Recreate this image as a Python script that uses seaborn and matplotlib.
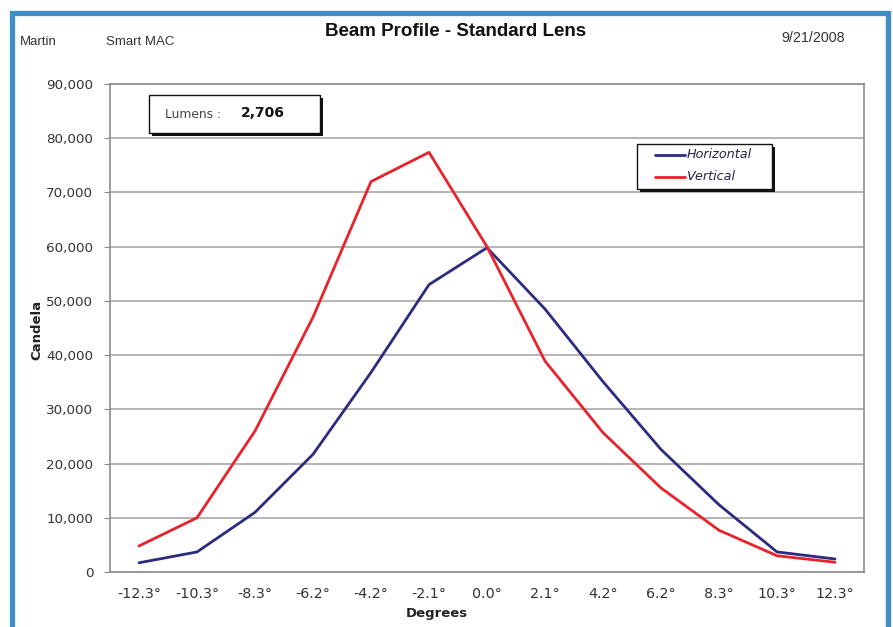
import matplotlib
matplotlib.use("Agg")
import matplotlib.pyplot as plt
import seaborn as sns
import pandas as pd
from matplotlib.patches import Rectangle
from matplotlib.lines import Line2D
from matplotlib.ticker import FuncFormatter

# ---------------- data ----------------
degree_labels = ["-12.3°", "-10.3°", "-8.3°", "-6.2°", "-4.2°", "-2.1°", "0.0°",
                 "2.1°", "4.2°", "6.2°", "8.3°", "10.3°", "12.3°"]
horizontal = [1700, 3700, 11000, 21700, 36800, 53000, 59800,
              48500, 35100, 22600, 12400, 3700, 2400]
vertical = [4800, 10000, 26000, 47000, 72000, 77400, 60000,
            38900, 25700, 15500, 7700, 3000, 1800]
series_names = ["Horizontal", "Vertical"]
y_ticks = [0, 10000, 20000, 30000, 40000, 50000, 60000, 70000, 80000, 90000]
lumens_value = "2,706"

# ---------------- style ----------------
sns.set_style("white")
plt.rcParams["font.family"] = ["DejaVu Sans"]

W, H = 893, 627
fig = plt.figure(figsize=(W / 100, H / 100), dpi=100)
fig.patch.set_facecolor("white")


def fx(x):
    return x / W


def fy(y):
    return 1 - y / H


colors = {"Horizontal": "#2d2b7f", "Vertical": "#e8232b"}

n = len(degree_labels)
df = pd.DataFrame({
    "pos": list(range(n)) * 2,
    "Candela": horizontal + vertical,
    "Series": [series_names[0]] * n + [series_names[1]] * n,
})

ax = fig.add_axes([fx(110), fy(572), fx(864) - fx(110), fy(84) - fy(572)])
sns.lineplot(data=df, x="pos", y="Candela", hue="Series", palette=colors,
             linewidth=2.0, legend=False, ax=ax, sort=False)

ax.set_xlim(-0.5, n - 0.5)
ax.set_ylim(0, 90000)
ax.set_yticks(y_ticks)
ax.yaxis.set_major_formatter(FuncFormatter(lambda v, p: f"{int(v):,}"))
ax.set_xticks(range(n))
ax.set_xticklabels(degree_labels)
ax.set_xticks([i - 0.5 for i in range(n + 1)], minor=True)
ax.tick_params(axis="x", which="major", length=0, pad=11, labelsize=10.3,
               labelcolor="#333333")
ax.tick_params(axis="x", which="minor", length=5, color="#8a8a8a", width=1)
ax.tick_params(axis="y", length=4, color="#8a8a8a", pad=8, labelsize=9.7,
               labelcolor="#333333", left=True)
ax.grid(axis="y", color="#a8a8a8", linewidth=1.2)
ax.set_axisbelow(True)
for s in ax.spines.values():
    s.set_color("#8c8c8c")
    s.set_linewidth(1.2)
ax.set_xlabel("")
ax.set_ylabel("")

# axis titles
fig.text(fx(437), fy(614), "Degrees", ha="center", va="center",
         fontsize=9.5, fontweight="bold", color="#222222")
fig.text(fx(37), fy(330), "Candela", ha="center", va="center", rotation=90,
         fontsize=9.5, fontweight="bold", color="#222222")

# header
hdr_font = ["Liberation Sans", "DejaVu Sans"]
fig.text(fx(456), fy(32), "Beam Profile - Standard Lens", ha="center",
         va="center", fontsize=13.5, fontweight="bold", family=hdr_font,
         color="#111111")
fig.text(fx(20), fy(42), "Martin", ha="left", va="center", fontsize=9.5,
         family=hdr_font, color="#333333")
fig.text(fx(106), fy(42), "Smart MAC", ha="left", va="center", fontsize=9.5,
         family=hdr_font, color="#333333")
fig.text(fx(845), fy(38), "9/21/2008", ha="right", va="center", fontsize=10.3,
         family=hdr_font, color="#333333")


def fig_rect(x0, y0, x1, y1, **kw):
    r = Rectangle((fx(x0), fy(y1)), fx(x1) - fx(x0), fy(y0) - fy(y1),
                  transform=fig.transFigure, **kw)
    fig.patches.append(r)
    return r


# lumens box with shadow
fig_rect(152, 98, 323, 136, facecolor="#111111", edgecolor="none", zorder=5)
fig_rect(149, 95, 320, 133, facecolor="white", edgecolor="#111111",
         linewidth=1.0, zorder=6)
fig.text(fx(165), fy(114), "Lumens :", ha="left", va="center", fontsize=8.8,
         color="#444444", zorder=7)
fig.text(fx(241), fy(113), lumens_value, ha="left", va="center", fontsize=10,
         fontweight="bold", color="#111111", zorder=7)

# legend box with shadow
fig_rect(640, 147, 775, 192, facecolor="#111111", edgecolor="none", zorder=5)
fig_rect(637, 144, 772, 189, facecolor="white", edgecolor="#111111",
         linewidth=1.0, zorder=6)
for i, name in enumerate(series_names):
    yy = 155 + 22 * i
    fig.add_artist(Line2D([fx(655), fx(685)], [fy(yy), fy(yy)],
                          transform=fig.transFigure, color=colors[name],
                          linewidth=2.0, zorder=7))
    fig.text(fx(687), fy(yy), name, ha="left", va="center", fontsize=9.2,
             style="italic", color="#222244", zorder=7)

# blue frame
fig_rect(11.5, 12.5, 887.5, 660, facecolor="none", edgecolor="#3f8fc6",
         linewidth=3.8, zorder=10, clip_on=False)

fig.savefig("out.png", dpi=100, facecolor="white")
